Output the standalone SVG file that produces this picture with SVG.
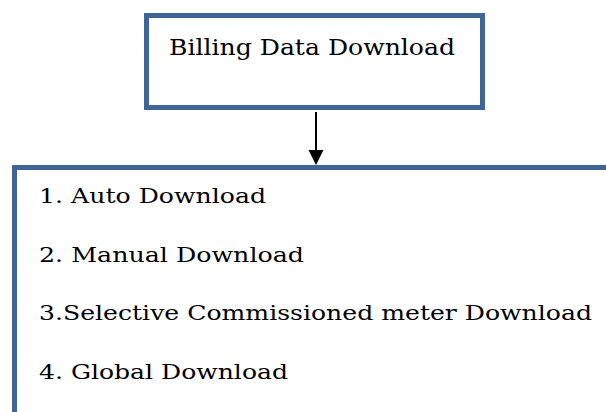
<svg xmlns="http://www.w3.org/2000/svg" width="606" height="412" viewBox="0 0 606 412">
  <style>
    .box { fill: #ffffff; stroke: #3F6496; stroke-width: 5; }
    .t { font-family: "DejaVu Serif", "Liberation Serif", serif; fill: #000000; }
    .head { font-size: 22px; }
    .item { font-size: 20.5px; }
  </style>
  <rect width="606" height="412" fill="#ffffff"/>
  <g id="node-billing">
    <rect class="box" x="146.5" y="15.5" width="336" height="92"/>
    <text class="t head" x="169" y="55" textLength="286" lengthAdjust="spacingAndGlyphs">Billing Data Download</text>
  </g>
  <g id="node-options">
    <rect class="box" x="14.5" y="167.5" width="620" height="280"/>
    <text class="t item" x="39" y="203" textLength="227" lengthAdjust="spacingAndGlyphs">1. Auto Download</text>
    <text class="t item" x="39" y="262" textLength="265" lengthAdjust="spacingAndGlyphs">2. Manual Download</text>
    <text class="t item" x="39" y="320" textLength="553" lengthAdjust="spacingAndGlyphs">3.Selective Commissioned meter Download</text>
    <text class="t item" x="39" y="379" textLength="249" lengthAdjust="spacingAndGlyphs">4. Global Download</text>
  </g>
  <g id="connectors">
    <line x1="316" y1="112" x2="316" y2="151" stroke="#000000" stroke-width="2"/>
    <polygon points="308.5,150 323.5,150 316,165" fill="#000000"/>
  </g>
</svg>
